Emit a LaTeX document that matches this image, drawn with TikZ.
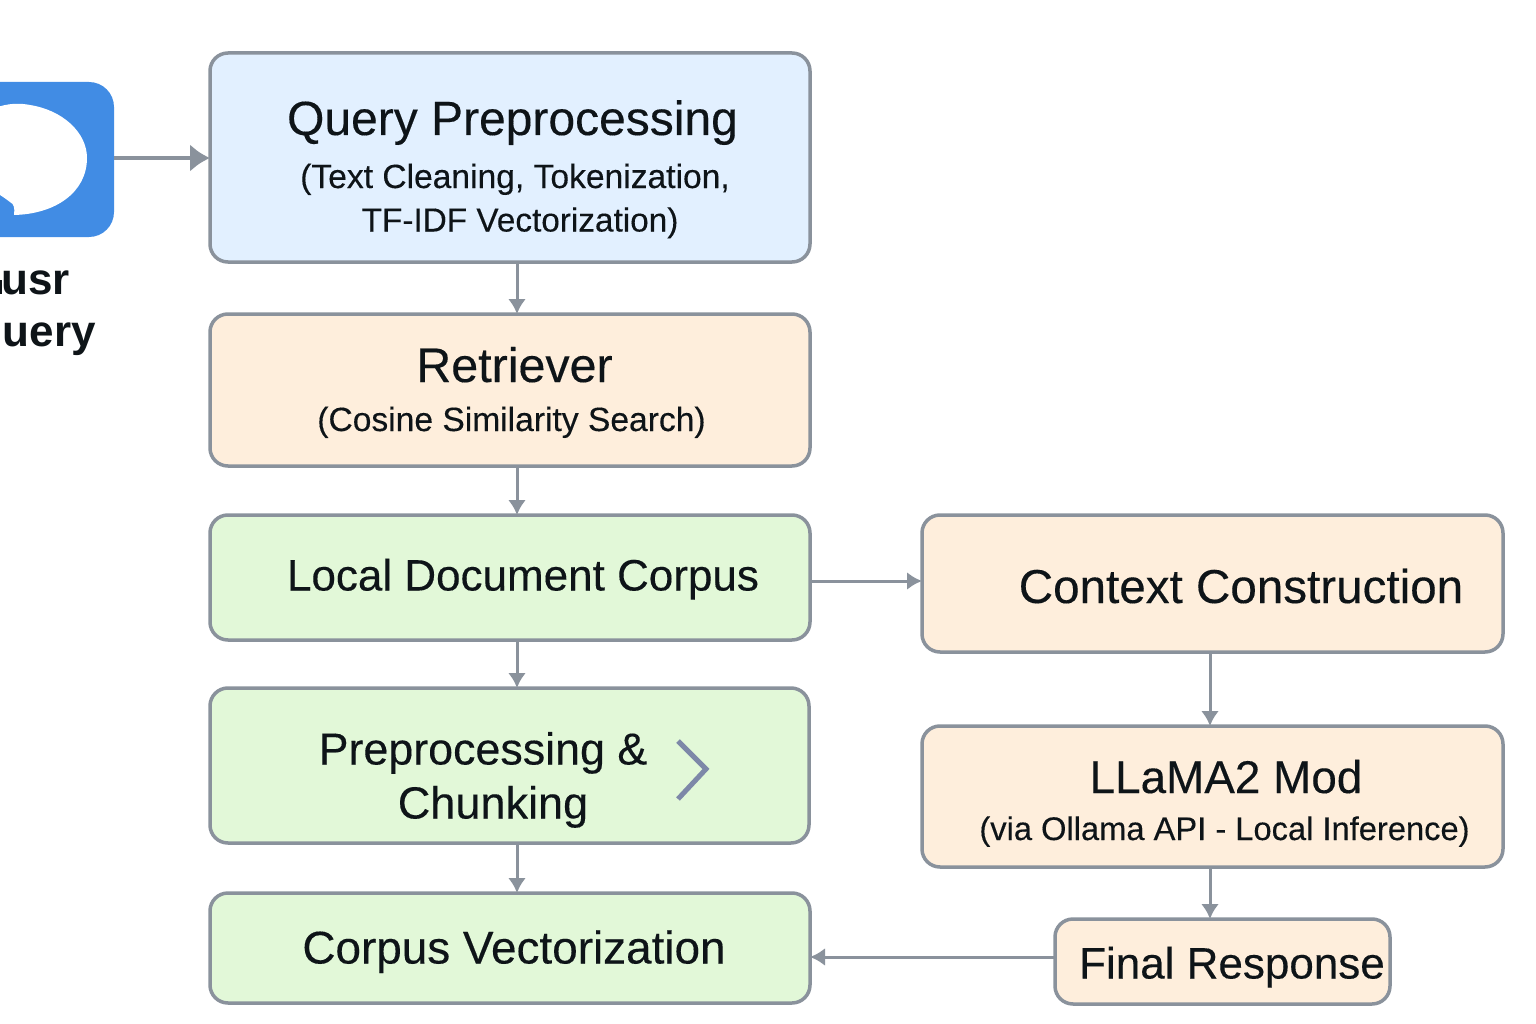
\documentclass[tikz,border=0pt]{standalone}
\usepackage{fontspec}
\setmainfont{Liberation Sans}
\newfontfamily\medfont[FakeBold=0.25]{Liberation Sans}
\usetikzlibrary{arrows.meta}
\def\px{0.75pt}
\definecolor{edgegray}{HTML}{8A929C}
\definecolor{bluefill}{HTML}{E2F0FF}
\definecolor{orangefill}{HTML}{FEEEDC}
\definecolor{greenfill}{HTML}{E2F8D8}
\definecolor{iconblue}{HTML}{418CE4}
\definecolor{inkdark}{HTML}{0E1418}
\definecolor{chev}{HTML}{7D88A8}
\newcommand{\fsz}[1]{\fontsize{#1pt}{#1pt}\medfont}
\tikzset{
  flowbox/.style={draw=edgegray,line width=3.5*\px,rounded corners=18*\px,inner sep=0pt,outer sep=0pt},
  lbl/.style={anchor=base,text=inkdark,inner sep=0pt},
  side/.style={anchor=base east,text=inkdark,inner sep=0pt,font=\fontsize{33pt}{33pt}\selectfont\bfseries},
  link/.style={draw=edgegray,line width=3*\px,-{Latex[length=15*\px,width=18*\px]}},
  linkbig/.style={draw=edgegray,line width=4*\px,-{Latex[length=20*\px,width=28*\px]}}
}
\begin{document}
\begin{tikzpicture}[x=0.75pt,y=-0.75pt]
\useasboundingbox (0,0) rectangle (1536,1024);
\clip (0,0) rectangle (1536,1024);
\fill[white] (0,0) rectangle (1536,1024);
% icon
\node[fill=iconblue,rounded corners=25*\px,minimum width=160*\px,minimum height=155*\px,inner sep=0pt,outer sep=0pt] (icon) at (34,159.5) {};
\fill[white] (-5,108) .. controls (8,103) and (20,103) .. (30,105)
  .. controls (62,110) and (87,132) .. (87,158)
  .. controls (87,192) and (56,214) .. (14,215)
  .. controls (15,208) and (14,204) .. (10,202)
  .. controls (6,199) and (2,196) .. (-5,192) -- cycle;
% boxes
\node[flowbox,fill=bluefill,minimum width=600*\px,minimum height=209*\px] (q) at (510,157.5) {};
\node[flowbox,fill=orangefill,minimum width=600*\px,minimum height=152*\px] (r) at (510,390) {};
\node[flowbox,fill=greenfill,minimum width=600*\px,minimum height=125*\px] (l) at (510,577.5) {};
\node[flowbox,fill=greenfill,minimum width=599*\px,minimum height=155*\px] (p) at (509.5,765.5) {};
\node[flowbox,fill=greenfill,minimum width=600*\px,minimum height=110*\px] (v) at (510,948) {};
\node[flowbox,fill=orangefill,minimum width=581*\px,minimum height=137*\px] (c) at (1212.5,583.5) {};
\node[flowbox,fill=orangefill,minimum width=581*\px,minimum height=141*\px] (m) at (1212.5,796.5) {};
\node[flowbox,fill=orangefill,minimum width=335*\px,minimum height=85*\px] (f) at (1222.5,961.5) {};
% texts
\fill[inkdark] (0,280) rectangle (2,293.5);
\node[side] (t1) at (70,294) {usr};
\node[side] (t2) at (96,346) {uery};
\node[lbl,font=\fsz{36}] (qa) at (512.5,135) {Query Preprocessing};
\node[lbl,font=\fsz{25.2}] (qb) at (515,188) {(Text Cleaning, Tokenization,};
\node[lbl,font=\fsz{25}] (qc) at (520,231.5) {TF-IDF Vectorization)};
\node[lbl,font=\fsz{36.3}] (ra) at (514.5,382) {Retriever};
\node[lbl,font=\fsz{25.2}] (rb) at (511.5,431) {(Cosine Similarity Search)};
\node[lbl,font=\fsz{33}] (la) at (523,590.5) {Local Document Corpus};
\node[lbl,font=\fsz{33.6}] (pa) at (483,764.5) {Preprocessing \&};
\node[lbl,font=\fsz{33.8}] (pb) at (493,818.5) {Chunking};
\node[lbl,font=\fsz{34.4}] (va) at (514,963.5) {Corpus Vectorization};
\node[lbl,font=\fsz{35.7}] (ca) at (1241,603) {Context Construction};
\node[lbl,font=\fsz{34.4}] (ma) at (1226,793) {LLaMA2 Mod};
\node[lbl,font=\fsz{24.5}] (mb) at (1224.5,840) {(via Ollama API - Local Inference)};
\node[lbl,font=\fsz{33}] (fa) at (1232,978.5) {Final Response};
% chevron
\coordinate (cha) at (678,741);
\coordinate (chb) at (706,769);
\coordinate (chc) at (678,799);
\draw[chev,line width=5*\px,miter limit=10] (cha) -- (chb) -- (chc);
% connectors
\draw[linkbig] ([yshift=1.5*\px]icon.east) -- ([yshift=-0.5*\px]q.west);
\draw[link] ([xshift=7*\px]q.south) -- ([xshift=7*\px]r.north);
\draw[link] ([xshift=7*\px]r.south) -- ([xshift=7*\px]l.north);
\draw[link] ([xshift=7*\px]l.south) -- ([xshift=7.5*\px]p.north);
\draw[link] ([xshift=7.5*\px]p.south) -- ([xshift=7*\px]v.north);
\draw[link] ([yshift=-3.5*\px]l.east) -- ([yshift=2.5*\px]c.west);
\draw[link] ([xshift=-2.5*\px]c.south) -- ([xshift=-2.5*\px]m.north);
\draw[link] ([xshift=-2.5*\px]m.south) -- ([xshift=-2.5*\px]m.south |- f.north);
\draw[link] ([yshift=4.5*\px]f.west) -- ([yshift=-9*\px]v.east);
\end{tikzpicture}
\end{document}
